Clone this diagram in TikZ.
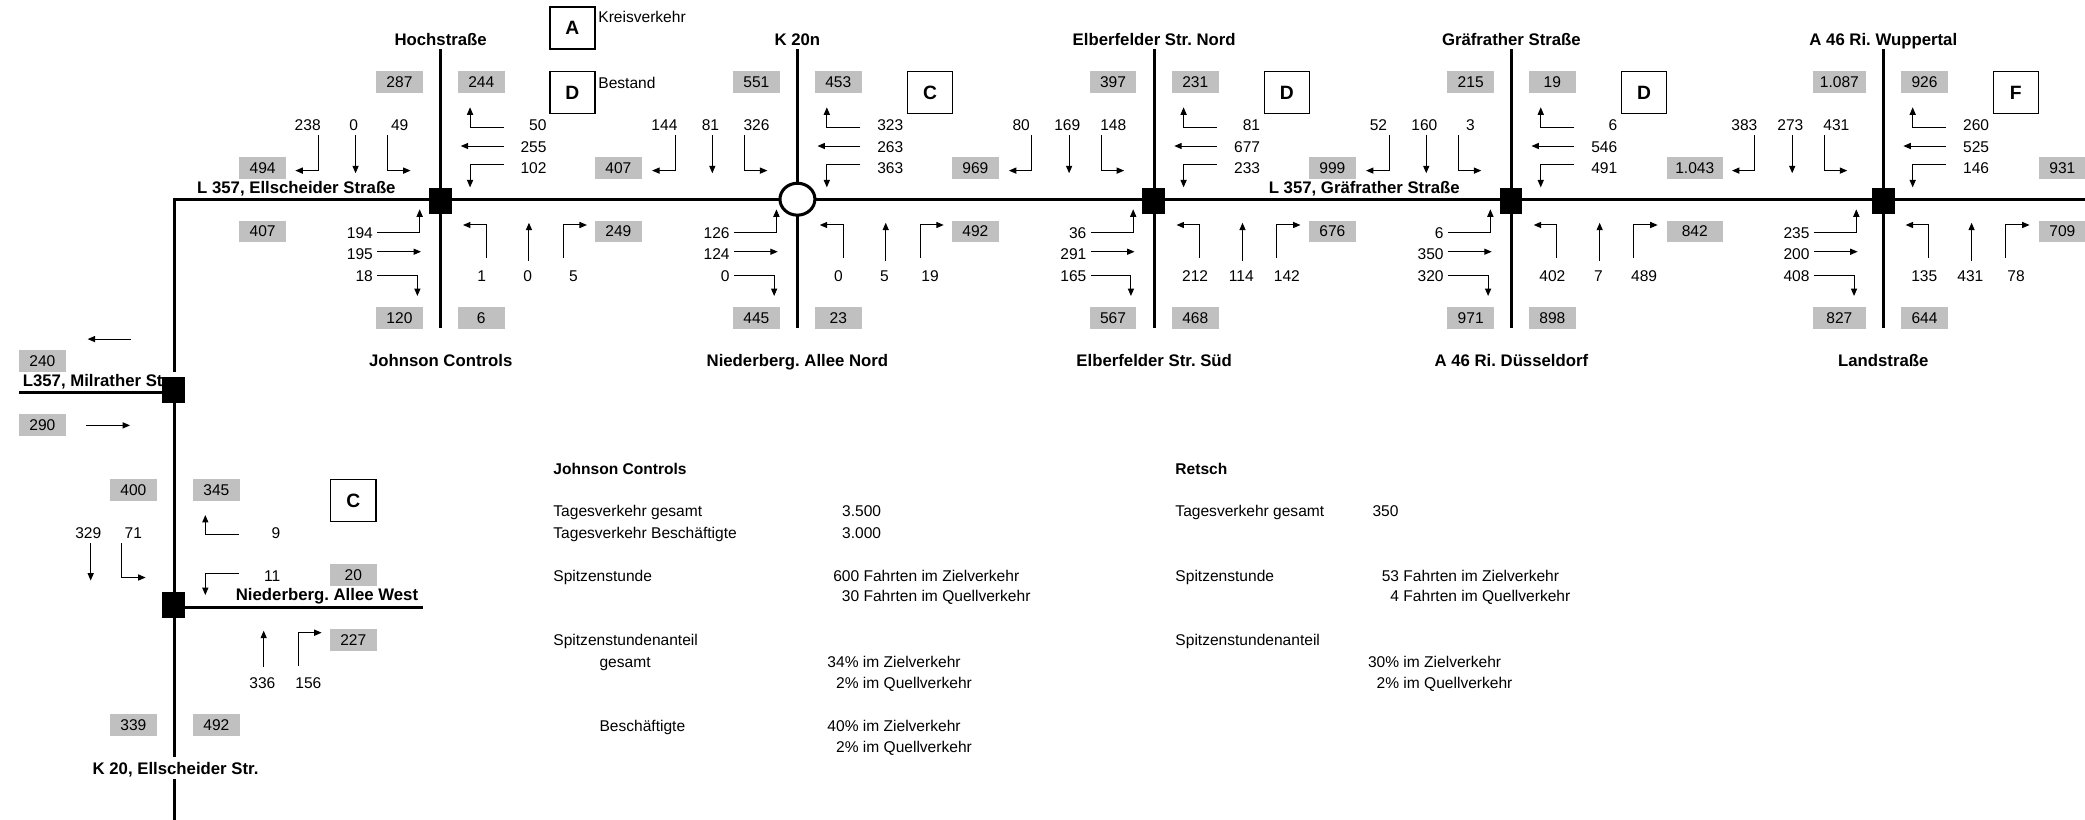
\documentclass[tikz,border=0pt]{standalone}
\usepackage{fontspec}
\setmainfont{Liberation Sans}
\usetikzlibrary{arrows.meta,shapes.geometric}
\definecolor{boxgray}{RGB}{192,192,192}
\frenchspacing
\tikzset{
 road/.style={line width=2.26pt},
 arr/.style={line width=0.75pt,-{Triangle[length=5.6pt,width=4.6pt]}},
 num/.style={inner sep=0pt,font=\fontsize{11.7}{13}\selectfont,text height=8.4pt,text depth=0pt},
 gbox/.style={fill=boxgray,inner sep=0pt,minimum width=35pt,minimum height=16.3pt,font=\fontsize{11.7}{13}\selectfont,text height=8.4pt,text depth=0pt},
 wbox/.style={gbox,minimum width=39.6pt},
 xbox/.style={gbox,minimum width=42pt},
 lbox/.style={draw,line width=1.1pt,minimum width=34pt,minimum height=31.8pt,inner sep=0pt,font=\fontsize{14.5}{16}\selectfont\bfseries},
 rlabel/.style={inner sep=0pt,font=\fontsize{12.6}{14}\selectfont\bfseries,text height=9pt,text depth=0pt},
 txt/.style={num,anchor=west},
 btxt/.style={txt,font=\fontsize{11.7}{13}\selectfont\bfseries},
 junc/.style={fill=black,inner sep=0pt,minimum width=17pt,minimum height=19.3pt},
 rbt/.style={draw,line width=2.3pt,fill=white,ellipse,minimum width=26.3pt,minimum height=24pt,inner sep=0pt},
}
% north arm: name, X, right turn, straight, left turn
\newcommand\armN[5]{%
\begin{scope}[shift={(#2,150)}]
\node[num] (#1n1) at (-100,-56) {#3};
\node[num] (#1n2) at (-65.4,-56) {#4};
\node[num] (#1n3) at (-30.8,-56) {#5};
\draw[arr] (-92,-48.5) -- (-92,-21.7) -- (-109.3,-21.7);
\draw[arr] (-64,-48.5) -- (-64,-19.7);
\draw[arr] (-40,-48.5) -- (-40,-21.7) -- (-22.6,-21.7);
\end{scope}}
\newcommand\armE[5]{%
\begin{scope}[shift={(#2,150)}]
\node[num,anchor=east] (#1e1) at (79.8,-56) {#3};
\node[num,anchor=east] (#1e2) at (79.8,-39.7) {#4};
\node[num,anchor=east] (#1e3) at (79.8,-24) {#5};
\draw[arr] (47.3,-54.3) -- (22.1,-54.3) -- (22.1,-69.3);
\draw[arr] (47.3,-40.2) -- (15.1,-40.2);
\draw[arr] (47.3,-26) -- (22.1,-26) -- (22.1,-9.1);
\end{scope}}
\newcommand\armW[5]{%
\begin{scope}[shift={(#2,150)}]
\node[num,anchor=east] (#1w1) at (-50.8,25) {#3};
\node[num,anchor=east] (#1w2) at (-50.8,41) {#4};
\node[num,anchor=east] (#1w3) at (-50.8,57.5) {#5};
\draw[arr] (-47.7,24.7) -- (-15.8,24.7) -- (-15.8,7.4);
\draw[arr] (-47.7,39.3) -- (-14.8,39.3);
\draw[arr] (-47.7,57) -- (-17.5,57) -- (-17.5,72.6);
\end{scope}}
\newcommand\armS[5]{%
\begin{scope}[shift={(#2,150)}]
\node[num] (#1s1) at (30.8,57.5) {#3};
\node[num] (#1s2) at (65.5,57.5) {#4};
\node[num] (#1s3) at (99.8,57.5) {#5};
\draw[arr] (34.3,44.3) -- (34.3,19.2) -- (16.8,19.2);
\draw[arr] (66.4,46) -- (66.4,17.5);
\draw[arr] (92.2,44.3) -- (92.2,19.2) -- (110,19.2);
\end{scope}}
% number right-aligned at x, text following
\newcommand\nt[4]{\node[txt] at (#1,#2) {\llap{#3} #4};}
\begin{document}
\begin{tikzpicture}[x=1pt,y=-1pt]
\useasboundingbox (0,0) rectangle (1568,616.66);
% roads
\draw[road] (131,617) -- (131,150) -- (1570,150);
\foreach \X in {331.4,599.7,868,1136.6,1416.3} \draw[road] (\X,37) -- (\X,247);
\draw[road] (14.3,294.8) -- (131,294.8);
\draw[road] (131,456.7) -- (317.8,456.7);
% road labels on white
\node[rlabel,anchor=west,fill=white,inner xsep=3pt,inner ysep=2.5pt] (milr) at (14,286.5) {L357, Milrather Str.};
\node[rlabel,fill=white,inner xsep=2pt,inner ysep=4pt] (k20) at (132,577.6) {K 20, Ellscheider Str.};
% junctions
\node[junc] (J1) at (331.4,151) {};
\node[rbt] (J2) at (599.7,149.8) {};
\node[junc] (J3) at (867.5,151) {};
\node[junc] (J4) at (1136.4,151) {};
\node[junc] (J5) at (1416.3,151) {};
\node[junc] (J6) at (130.5,293.3) {};
\node[junc] (J7) at (130.5,455) {};
% top / bottom road names
\node[rlabel] (t1) at (331.4,29.6) {Hochstraße};
\node[rlabel] (t2) at (599.7,29.6) {K 20n};
\node[rlabel] (t3) at (868,29.6) {Elberfelder Str. Nord};
\node[rlabel] (t4) at (1136.6,29.6) {Gräfrather Straße};
\node[rlabel] (t5) at (1416.3,29.6) {A 46 Ri. Wuppertal};
\node[rlabel] (b1) at (331.4,270.8) {Johnson Controls};
\node[rlabel] (b2) at (599.7,270.8) {Niederberg. Allee Nord};
\node[rlabel] (b3) at (868,270.8) {Elberfelder Str. Süd};
\node[rlabel] (b4) at (1136.6,270.8) {A 46 Ri. Düsseldorf};
\node[rlabel] (b5) at (1416.3,270.8) {Landstraße};
\node[rlabel] (ells) at (222.9,140.9) {L 357, Ellscheider Straße};
\node[rlabel,anchor=west] (graef) at (954,140.9) {L 357, Gräfrather Straße};
\node[rlabel,anchor=west] (nwest) at (177.2,447.4) {Niederberg. Allee West};
% legend
\node[lbox] (legA) at (430.5,21) {A};
\node[lbox] (legD) at (430.5,69.5) {D};
\node[num,anchor=west] (kv) at (449.8,13) {Kreisverkehr};
\node[num,anchor=west] (bs) at (449.8,62.2) {Bestand};
\node[lbox] (L2) at (699.4,69.5) {C};
\node[lbox] (L3) at (967.8,69.5) {D};
\node[lbox] (L4) at (1236.4,69.5) {D};
\node[lbox] (L5) at (1516,69.5) {F};
\node[lbox] (L7) at (265.7,376.4) {C};
% grey boxes top and bottom
\node[gbox] at (300.4,61.5) {287}; \node[gbox] at (361.9,61.5) {244};
\node[gbox] at (300.4,239) {120}; \node[gbox] at (361.9,239) {6};
\node[gbox] at (568.8,61.5) {551}; \node[gbox] at (630.4,61.5) {453};
\node[gbox] at (568.8,239) {445}; \node[gbox] at (630.4,239) {23};
\node[gbox] at (837,61.5) {397}; \node[gbox] at (898.9,61.5) {231};
\node[gbox] at (837,239) {567}; \node[gbox] at (898.9,239) {468};
\node[gbox] at (1106,61.5) {215}; \node[gbox] at (1167.4,61.5) {19};
\node[gbox] at (1106,239) {971}; \node[gbox] at (1167.4,239) {898};
\node[wbox] at (1383.3,61.5) {1.087}; \node[gbox] at (1447.3,61.5) {926};
\node[wbox] at (1383.3,239) {827}; \node[gbox] at (1447.3,239) {644};
% section boxes
\node[gbox] at (197.5,126.3) {494}; \node[gbox] at (197.5,174) {407};
\node[gbox] at (465,126.3) {407}; \node[gbox] at (465,174) {249};
\node[gbox] at (733.5,126.3) {969}; \node[gbox] at (733.5,174) {492};
\node[gbox] at (1002,126.3) {999}; \node[gbox] at (1002,174) {676};
\node[xbox] at (1274.5,126.3) {1.043}; \node[xbox] at (1274.5,174) {842};
\node[gbox] at (1551,126.3) {931}; \node[gbox] at (1551,174) {709};
% arms
\armN{a}{331.4}{238}{0}{49}
\armE{a}{331.4}{50}{255}{102}
\armW{a}{331.4}{194}{195}{18}
\armS{a}{331.4}{1}{0}{5}
\armN{b}{599.7}{144}{81}{326}
\armE{b}{599.7}{323}{263}{363}
\armW{b}{599.7}{126}{124}{0}
\armS{b}{599.7}{0}{5}{19}
\armN{c}{868}{80}{169}{148}
\armE{c}{868}{81}{677}{233}
\armW{c}{868}{36}{291}{165}
\armS{c}{868}{212}{114}{142}
\armN{d}{1136.6}{52}{160}{3}
\armE{d}{1136.6}{6}{546}{491}
\armW{d}{1136.6}{6}{350}{320}
\armS{d}{1136.6}{402}{7}{489}
\armN{e}{1411.8}{383}{273}{431}
\armE{e}{1416.3}{260}{525}{146}
\armW{e}{1411.8}{235}{200}{408}
\armS{e}{1416.3}{135}{431}{78}
% Milrather
\node[gbox] (m240) at (31.9,271.3) {240};
\node[gbox] (m290) at (31.9,319.6) {290};
\draw[arr] (98.3,255) -- (65.9,255);
\draw[arr] (64.7,319.9) -- (97.8,319.9);
% Niederberg West junction
\node[gbox] at (100.3,368.4) {400}; \node[gbox] at (162.7,368.4) {345};
\node[gbox] at (100.3,545.1) {339}; \node[gbox] at (162.7,545.1) {492};
\node[gbox] at (265.7,432.4) {20}; \node[gbox] at (265.7,481.3) {227};
\node[num] at (66.4,400.5) {329}; \node[num] at (100.3,400.5) {71};
\node[num,anchor=east] at (211,400.5) {9};
\node[num,anchor=east] at (211,432.9) {11};
\node[num] at (197.3,513.4) {336}; \node[num] at (231.9,513.4) {156};
\draw[arr] (68.2,408.6) -- (68.2,436.6);
\draw[arr] (91.5,408.6) -- (91.5,434.3) -- (109.5,434.3);
\draw[arr] (179.5,401.8) -- (154.4,401.8) -- (154.4,387.3);
\draw[arr] (179.5,431.2) -- (154.4,431.2) -- (154.4,447.5);
\draw[arr] (198.3,501.9) -- (198.3,474.3);
\draw[arr] (224.4,500.6) -- (224.4,475.8) -- (241.9,475.8);
% info block
\node[btxt] at (416,353) {Johnson Controls};
\node[txt] at (416,384.3) {Tagesverkehr gesamt};
\node[txt] at (416,400.6) {Tagesverkehr Beschäftigte};
\node[num,anchor=east] at (662.8,384.3) {3.500};
\node[num,anchor=east] at (662.8,400.6) {3.000};
\node[txt] at (416,433.2) {Spitzenstunde};
\nt{646}{433.2}{600}{Fahrten im Zielverkehr}
\nt{646}{448.2}{30}{Fahrten im Quellverkehr}
\node[txt] at (416,481.3) {Spitzenstundenanteil};
\node[txt] at (450.7,497.6) {gesamt};
\nt{645.5}{497.6}{34\%}{im Zielverkehr}
\nt{645.5}{513.4}{2\%}{im Quellverkehr}
\node[txt] at (450.7,546) {Beschäftigte};
\nt{645.5}{546}{40\%}{im Zielverkehr}
\nt{645.5}{561.5}{2\%}{im Quellverkehr}
\node[btxt] at (883.8,353) {Retsch};
\node[txt] at (883.8,384.3) {Tagesverkehr gesamt};
\node[txt] at (1032,384.3) {350};
\node[txt] at (883.8,433.2) {Spitzenstunde};
\nt{1052}{433.2}{53}{Fahrten im Zielverkehr}
\nt{1052}{448.2}{4}{Fahrten im Quellverkehr}
\node[txt] at (883.8,481.3) {Spitzenstundenanteil};
\nt{1052}{497.6}{30\%}{im Zielverkehr}
\nt{1052}{513.4}{2\%}{im Quellverkehr}
\end{tikzpicture}
\end{document}
